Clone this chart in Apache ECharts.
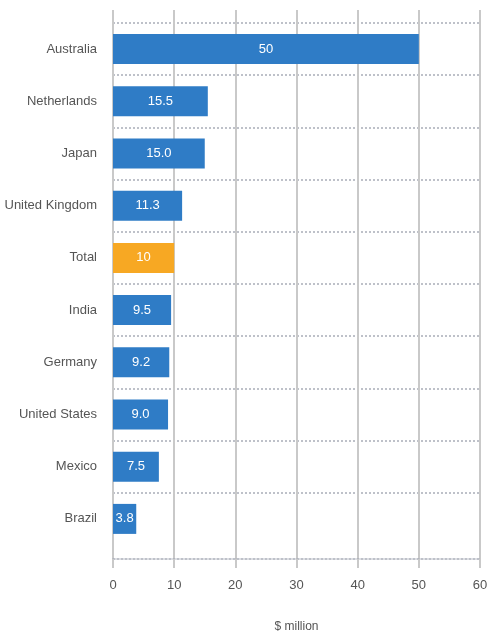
<!DOCTYPE html>
<html>
<head>
<meta charset="utf-8">
<script src="https://cdn.jsdelivr.net/npm/echarts@6/dist/echarts.min.js"></script>
<style>
  html, body { margin: 0; padding: 0; background: #ffffff; }
  #chart { width: 490px; height: 635px; }
</style>
</head>
<body>
<div id="chart"></div>
<script>
// Countries, top to bottom
const categories = ['Australia', 'Netherlands', 'Japan', 'United Kingdom', 'Total',
                    'India', 'Germany', 'United States', 'Mexico', 'Brazil'];
// Values in $ million
const values = [50, 15.5, 15.0, 11.3, 10, 9.5, 9.2, 9.0, 7.5, 3.8];
// Text printed on each bar
const valueLabels = ['50', '15.5', '15.0', '11.3', '10', '9.5', '9.2', '9.0', '7.5', '3.8'];
const xTicks = [0, 10, 20, 30, 40, 50, 60];
const highlight = 'Total';

const FONT = '"Liberation Sans", Arial, sans-serif';
const BLUE = '#2f7cc6';
const ORANGE = '#f7a823';
const DOTS = { color: '#a9adb8', width: 1.5, type: [2, 2] };

const chart = echarts.init(document.getElementById('chart'), null, { renderer: 'canvas' });

chart.setOption({
  animation: false,
  backgroundColor: '#ffffff',
  grid: [
    // outer grid: vertical gridlines and the value axis
    { left: 113, right: 10, top: 10, bottom: 76, outerBoundsMode: 'none', containLabel: false },
    // inner grid: category bands and bars
    { left: 113, right: 10, top: 23, bottom: 90, outerBoundsMode: 'none', containLabel: false }
  ],
  xAxis: [
    {
      gridIndex: 0,
      type: 'value',
      min: xTicks[0],
      max: xTicks[xTicks.length - 1],
      interval: 10,
      name: '$ million',
      nameLocation: 'middle',
      nameGap: 62,
      nameTextStyle: { fontFamily: FONT, fontSize: 12, color: '#555555' },
      axisLine: { show: true, lineStyle: DOTS },
      axisTick: { show: true, length: 9, lineStyle: { color: '#c9c9c9', width: 2 } },
      axisLabel: {
        margin: 20,
        fontFamily: FONT, fontSize: 13, color: '#555555',
        formatter: v => String(v)
      },
      splitLine: { show: true, lineStyle: { color: '#c9c9c9', width: 2 } }
    },
    {
      gridIndex: 1,
      type: 'value',
      min: xTicks[0],
      max: xTicks[xTicks.length - 1],
      interval: 10,
      show: false
    }
  ],
  yAxis: [
    {
      gridIndex: 0,
      type: 'category',
      data: categories,
      show: false
    },
    {
      gridIndex: 1,
      type: 'category',
      data: categories,
      inverse: true,
      axisLine: { show: false },
      axisTick: { show: false },
      axisLabel: {
        margin: 16,
        fontFamily: FONT, fontSize: 13, color: '#555555'
      },
      splitLine: {
        show: true,
        showMinLine: true,
        showMaxLine: false,
        lineStyle: DOTS
      }
    }
  ],
  series: [
    {
      type: 'bar',
      xAxisIndex: 1,
      yAxisIndex: 1,
      barWidth: 30,
      data: values.map((v, i) => ({
        value: v,
        itemStyle: { color: categories[i] === highlight ? ORANGE : BLUE }
      })),
      label: {
        show: true,
        position: 'inside',
        fontFamily: FONT,
        fontSize: 13,
        color: '#ffffff',
        formatter: p => valueLabels[p.dataIndex]
      }
    }
  ]
});
</script>
</body>
</html>
